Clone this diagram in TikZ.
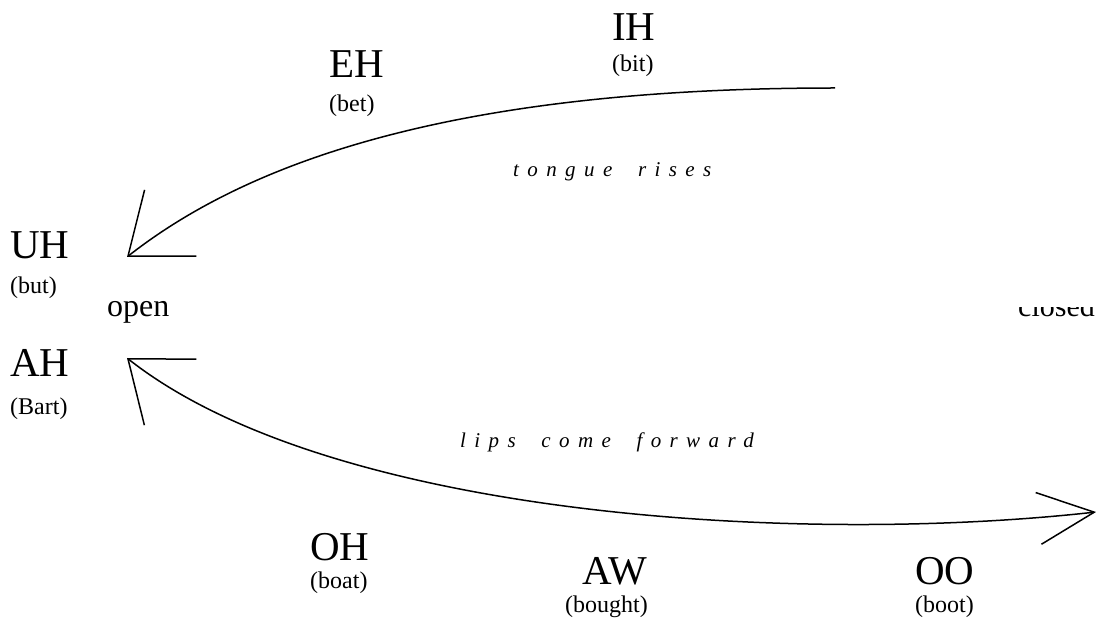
\documentclass[tikz,border=0pt]{standalone}
\usepackage{fontspec}
\setmainfont{Liberation Serif}
\usetikzlibrary{arrows.meta}
\tikzstyle{sound} = [inner sep=0pt, anchor=base west, font=\fontsize{41}{41}\selectfont]
\tikzstyle{word} = [inner sep=0pt, anchor=base west, font=\fontsize{24}{24}\selectfont]
\tikzstyle{side} = [inner sep=0pt, anchor=base west, font=\fontsize{32}{32}\selectfont]
\tikzstyle{hint} = [inner sep=0pt, anchor=base west, font=\fontsize{21}{21}\selectfont\itshape\addfontfeatures{LetterSpace=40}]
\tikzset{
	curve/.style={line width=1.5pt},
	bigbarb/.tip={Straight Barb[length=54pt,width=84pt]},
	smallbarb/.tip={Straight Barb[length=56pt,width=52pt]}
	}

\begin{document}
\begin{tikzpicture}[x=1pt, y=-1pt]
	\useasboundingbox (0,0) rectangle (1096,620);

	% vowels on the upper arc
	\node [sound] (ih) at (612,41) {IH};
	\node [word] (bit) at ([yshift=-31pt]ih.base west) {(bit)};
	\node [sound] (eh) at (329,78) {EH};
	\node [word] (bet) at ([yshift=-34pt]eh.base west) {(bet)};
	\node [sound] (uh) at (10,259) {UH};
	\node [word] (but) at ([yshift=-35pt]uh.base west) {(but)};

	% vowels on the lower arc
	\node [sound] (ah) at (10,377) {AH};
	\node [word] (bart) at ([yshift=-38pt]ah.base west) {(Bart)};
	\node [sound] (oh) at (310,560) {OH};
	\node [word] (boat) at ([yshift=-28pt]oh.base west) {(boat)};
	\node [sound] (aw) at (582,584) {AW};
	\node [word] (bought) at ([yshift=-28pt,xshift=-17pt]aw.base west) {(bought)};
	\node [sound] (oo) at (915,584) {OO};
	\node [word] (boot) at ([yshift=-28pt]oo.base west) {(boot)};

	\node [side] (open) at (107,317) {open};
	\begin{scope}
		\clip (1000,308) rectangle (1096,330);
		\node [side, font=\fontsize{30}{30}\selectfont] (closed) at (1018,317) {closed};
	\end{scope}

	\node [hint] (tongue) at (513,177) {tongue\hspace{12pt} rises};
	\node [hint] (lips) at (460,447) {lips\hspace{12pt} come\hspace{12pt} forward};

	\coordinate (ihend) at (835,88);
	\coordinate (uhtip) at (127,257);
	\coordinate (ahtip) at (127,358);
	\coordinate (ootip) at (1096,512);

	\draw[curve, -bigbarb] (ihend) .. controls (450,88) and (247,163) .. (uhtip);
	\draw[curve, bigbarb-smallbarb] (ahtip) .. controls (330,518) and (800,545) .. (ootip);
\end{tikzpicture}
\end{document}
